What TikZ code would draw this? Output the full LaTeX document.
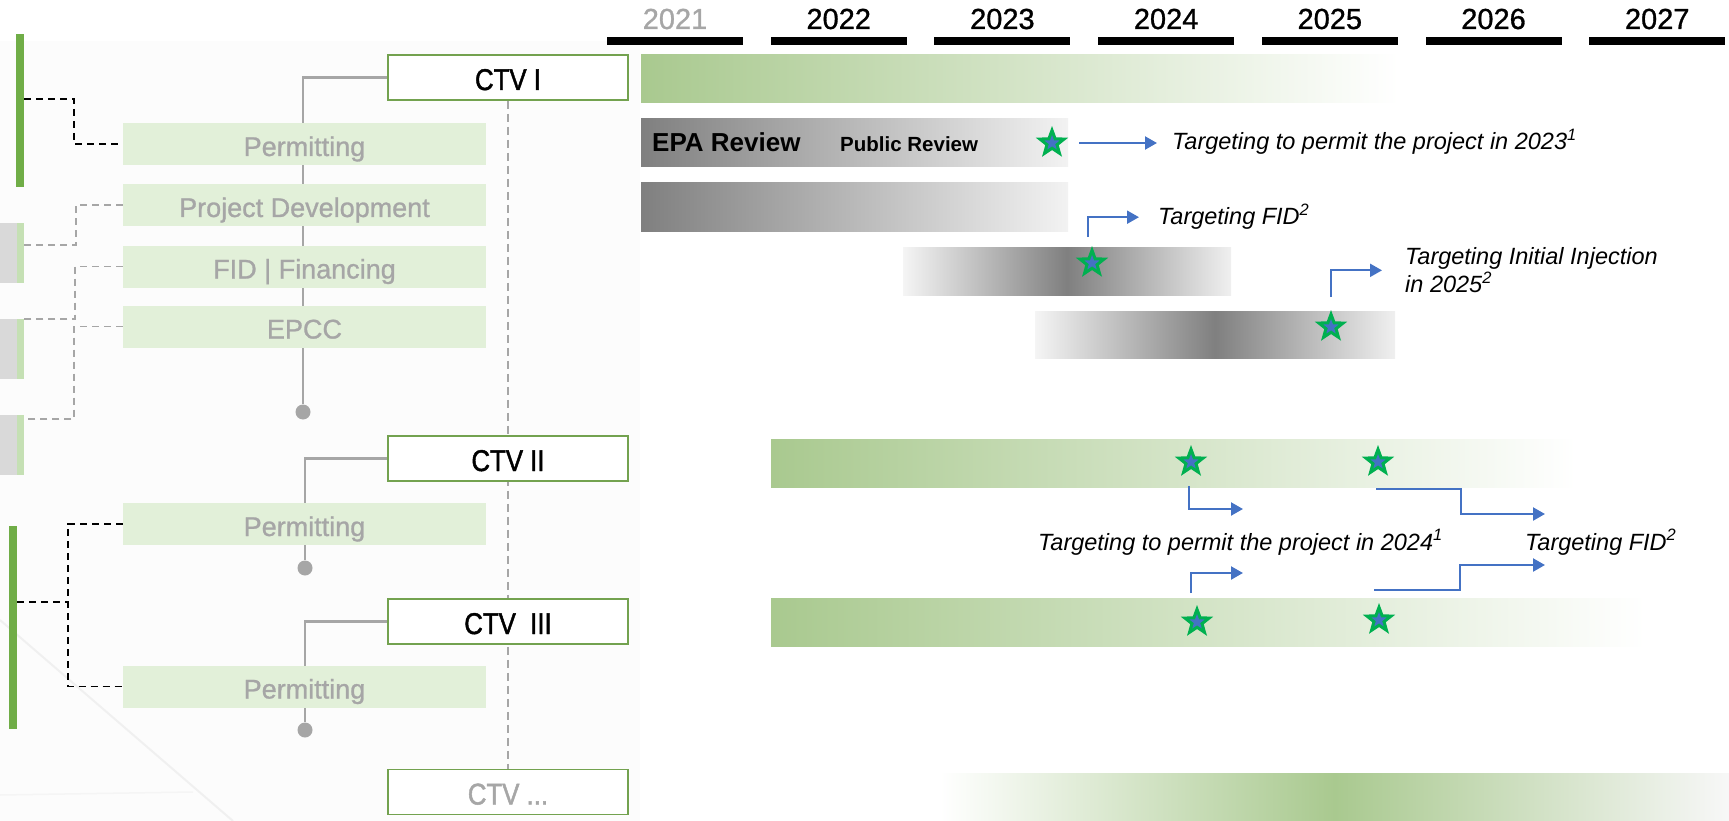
\documentclass[tikz,border=0pt]{standalone}
\usepackage{fontspec}
\setmainfont{Liberation Sans}
\newfontfamily\ctvfont{Liberation Sans}[FakeStretch=0.86,FakeBold=1.5]
\newfontfamily\yrfont{Liberation Sans}[FakeBold=1]
\newfontfamily\phfont{Liberation Sans}[FakeBold=1]
\usetikzlibrary{arrows.meta,shapes.geometric,shadows}
\definecolor{gA}{HTML}{70AD47}
\definecolor{gB}{HTML}{73A24F}
\definecolor{gL}{HTML}{E2F0D9}
\definecolor{gS}{HTML}{C5E0B4}
\definecolor{grn}{HTML}{A9C98F}
\definecolor{tG}{HTML}{A6A6A6}
\definecolor{bxG}{HTML}{D9D9D9}
\definecolor{sG}{HTML}{00B050}
\definecolor{bB}{HTML}{4472C4}
\pgfdeclarelayer{back}
\pgfdeclarelayer{lines}
\pgfsetlayers{back,lines,main}
\begin{document}
\begin{tikzpicture}[x=1pt,y=-1pt,
  yearlbl/.style={font=\yrfont\fontsize{29}{34}\selectfont, inner sep=0},
  ctvbox/.style={draw=gB, line width=1.8pt, fill=white, minimum width=239.5pt, minimum height=45pt, inner sep=0, text height=25pt, text depth=0pt, font=\ctvfont\fontsize{30}{34}\selectfont},
  phase/.style={fill=gL, minimum width=363pt, minimum height=42pt, inner sep=0, text height=24pt, text depth=0pt, text=tG, font=\phfont\fontsize{27}{30}\selectfont},
  bardot/.style={circle, fill=tG, minimum size=15pt, inner sep=0},
  conn/.style={draw=tG, line width=2.4pt},
  vdash/.style={draw=tG, line width=1.4pt, dash pattern=on 8pt off 5pt},
  bdash/.style={draw=black, line width=1.8pt, dash pattern=on 7pt off 5pt},
  gdash/.style={draw=tG, line width=1.6pt, dash pattern=on 7pt off 5pt},
  starG/.style={star, star points=5, star point ratio=2.4, fill=sG, draw=none, minimum size=34pt, inner sep=0},
  starB/.style={star, star points=5, star point ratio=2.4, fill=bB, draw=none, minimum size=16pt, inner sep=0},
  barr/.style={draw=bB, line width=2.2pt, -{Triangle[length=12pt,width=13pt]}},
  note/.style={font=\itshape\fontsize{23.5}{28}\selectfont, inner sep=0, align=left},
  vbar/.style={inner sep=0, anchor=north west},
  graybox/.style={vbar, fill=bxG, minimum width=24pt, minimum height=60pt,
    path picture={\fill[gS] ([xshift=-7pt]path picture bounding box.north east) rectangle (path picture bounding box.south east);}},
]
\useasboundingbox (0,0) rectangle (1729,821);

% background
\begin{pgfonlayer}{back}
\fill[black!1] (0,41) rectangle (640,821);
\draw[black!6, line width=2pt] (0,620) -- (233,821);
\draw[black!4, line width=1.5pt] (0,795) -- (193,792);
\end{pgfonlayer}

% years
\foreach \yr/\c [count=\i from 0] in {2021/tG,2022/black,2023/black,2024/black,2025/black,2026/black,2027/black}{
  \pgfmathsetmacro\xa{607+163.7*\i}
  \fill (\xa,37.5) rectangle ++(136,8);
  \node[yearlbl, text=\c, anchor=base] (yr\yr) at (\xa+68,29) {\yr};
}

% timeline bars
\shade[left color=grn, right color=white] (641,55) rectangle (1399,103);
\shade[left color=black!50, right color=black!5] (641,119) rectangle (1068,167);
\shade[left color=black!50, right color=black!5] (641,183) rectangle (1068,231);
\shade[left color=black!4, right color=black!6, middle color=black!50] (903,247) rectangle (1231,295);
\shade[left color=black!4, right color=black!6, middle color=black!50] (1035,311) rectangle (1395,358);
\shade[left color=grn, right color=white] (771,439) rectangle (1576,487);
\shade[left color=grn, right color=white] (771,598) rectangle (1645,646);
\shade[left color=white, right color=black!3, middle color=grn] (940,773) rectangle (1729,821);

% bar texts
\node[font=\bfseries\fontsize{26}{30}\selectfont, anchor=base west, inner sep=0] (epa) at (652,152) {EPA Review};
\node[font=\bfseries\fontsize{20.5}{24}\selectfont, anchor=base west, inner sep=0] (pub) at (840,152) {Public Review};

% stars
\node[starG] (s1) at (1052,143) {}; \node[starB] (s1i) at (s1) {};
\node[starG] (s2) at (1092,263) {}; \node[starB] (s2i) at (s2) {};
\node[starG] (s3) at (1331,327) {}; \node[starB] (s3i) at (s3) {};
\node[starG] (s4) at (1191,462) {}; \node[starB] (s4i) at (s4) {};
\node[starG] (s5) at (1378,462) {}; \node[starB] (s5i) at (s5) {};
\node[starG] (s6) at (1197,622) {}; \node[starB] (s6i) at (s6) {};
\node[starG] (s7) at (1379,620) {}; \node[starB] (s7i) at (s7) {};

% notes
\node[note, anchor=base west] (t1) at (1172,150) {Targeting to permit the project in 2023\textsuperscript{1}};
\node[note, anchor=base west] (t2) at (1158,225) {Targeting FID\textsuperscript{2}};
\node[note, anchor=north west] (t3) at (1405,247.5) {Targeting Initial Injection\\in 2025\textsuperscript{2}};
\node[note, anchor=base west] (t4) at (1038,550) {Targeting to permit the project in 2024\textsuperscript{1}};
\node[note, anchor=base west] (t5) at (1525,550) {Targeting FID\textsuperscript{2}};

% arrows
\coordinate (e4) at (1243,509);
\coordinate (e5) at (1545,514);
\coordinate (e6) at (1243,573);
\coordinate (e7) at (1545,565);
\draw[barr] ([xshift=27pt]s1.center) -- ([xshift=105pt]s1.center);
\draw[barr] ([xshift=-4pt,yshift=26pt]s2.center) |- ([xshift=-19pt]t2.west);
\draw[barr] ([yshift=30pt]s3.center) |- ([xshift=-23pt]t3.west);
\draw[barr] ([xshift=-2pt,yshift=-24pt]s4.center) |- (e4);
\draw[barr] ([xshift=-2pt,yshift=-27pt]s5.center) -- ++(85,0) |- (e5);
\draw[barr] ([xshift=-6pt,yshift=29pt]s6.center) |- (e6);
\draw[barr] ([xshift=-5pt,yshift=30pt]s7.center) -- ++(86,0) |- (e7);

% left tree
\node[ctvbox, drop shadow={opacity=0.25, shadow xshift=1.5pt, shadow yshift=-1.5pt}] (ctv1) at (508,77.5) {CTV I};
\node[ctvbox] (ctv2) at (508,458.5) {CTV II};
\node[ctvbox] (ctv3) at (508,621.5) {CTV\ \ III};
\node[ctvbox, text=tG] (ctvx) at (508,792) {CTV ...};

\node[phase] (perm1) at (304.5,144) {Permitting};
\node[phase] (pd) at (304.5,205) {Project Development};
\node[phase] (fid) at (304.5,266.5) {FID | Financing};
\node[phase] (epcc) at (304.5,326.5) {EPCC};
\node[phase] (perm2) at (304.5,524) {Permitting};
\node[phase] (perm3) at (304.5,686.5) {Permitting};

\node[bardot] (dot1) at (303,412) {};
\node[bardot] (dot2) at (305,568) {};
\node[bardot] (dot3) at (305,730) {};

\node[vbar, fill=gA, minimum width=7.6pt, minimum height=153pt] (gbar1) at (16,34) {};
\node[vbar, fill=gA, minimum width=7.6pt, minimum height=203pt] (gbar2) at (9,526) {};
\node[graybox] (gb1) at (0,223) {};
\node[graybox] (gb2) at (0,319) {};
\node[graybox] (gb3) at (0,415) {};

\begin{pgfonlayer}{lines}
\draw[conn] (ctv1.west) -| (dot1);
\draw[conn] (ctv2.west) -| (dot2);
\draw[conn] (ctv3.west) -| (dot3);
\draw[vdash] (ctv1.south) -- (ctvx.north);
\end{pgfonlayer}

\coordinate (k1) at (74,99);
\coordinate (k2) at (76,245);
\coordinate (k3) at (75,319);
\coordinate (k4) at (74,419);
\coordinate (k5) at (68,602);
\draw[bdash] (gbar1.east |- k1) -- (k1) |- (perm1.west);
\draw[gdash] (pd.west) -| (k2) -- (gb1.east |- k2);
\draw[gdash] (fid.west) -| (k3) -- (gb2.east |- k3);
\draw[gdash] (epcc.west) -| (k4) -- (gb3.east |- k4);
\draw[bdash] (gbar2.east |- k5) -- (k5);
\draw[bdash] (perm2.west) -| (k5) |- (perm3.west);
\end{tikzpicture}
\end{document}
